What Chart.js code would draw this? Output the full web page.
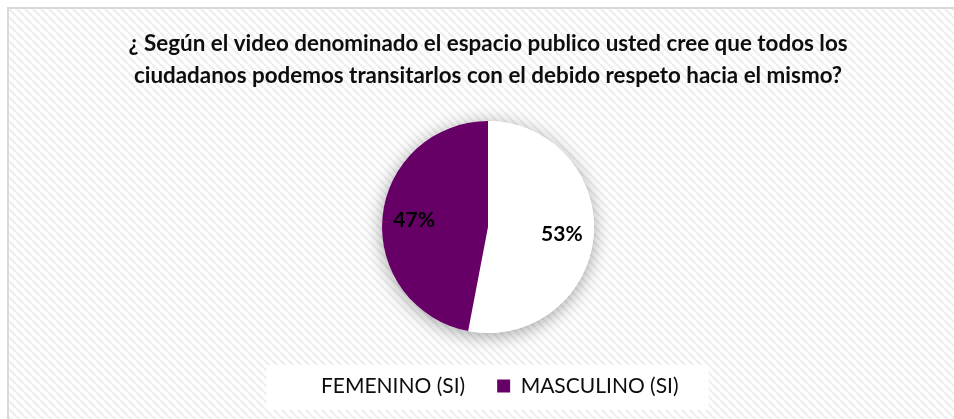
<!DOCTYPE html>
<html lang="es">
<head>
  <meta charset="UTF-8" />
  <title>Espacio publico</title>
  <script src="https://cdn.jsdelivr.net/npm/chart.js"></script>
  <style>
    body { margin: 0; background: #fff; }
    #wrap { width: 954px; height: 419px; }
  </style>
</head>
<body>
<div id="wrap"><canvas id="pieChart" width="954" height="419"></canvas></div>
<script>
  // data
  const categories = ['FEMENINO (SI)', 'MASCULINO (SI)'];
  const percents = [53, 47];
  const sliceColors = ['#ffffff', '#660066'];
  const titleLines = [
    '¿ Según el video denominado el espacio publico usted cree que todos los',
    'ciudadanos podemos transitarlos con el debido respeto hacia el mismo?'
  ];

  const FONT = 'Lato, "Liberation Sans", sans-serif';

  // striped fill for the plot background
  function makeStripes() {
    const c = document.createElement('canvas');
    c.width = 8; c.height = 8;
    const g = c.getContext('2d');
    g.fillStyle = '#ffffff';
    g.fillRect(0, 0, 8, 8);
    g.strokeStyle = '#efefef';
    g.lineWidth = 2.5;
    g.beginPath();
    for (let k = -8; k <= 16; k += 8) {
      g.moveTo(k, 0);
      g.lineTo(k + 8, 8);
    }
    g.stroke();
    return c;
  }
  const stripeTile = makeStripes();

  const backdrop = {
    id: 'backdrop',
    beforeDraw(chart) {
      const ctx = chart.ctx;
      ctx.save();
      ctx.fillStyle = '#ffffff';
      ctx.fillRect(0, 0, chart.width, chart.height);
      ctx.fillStyle = ctx.createPattern(stripeTile, 'repeat');
      ctx.fillRect(8, 8, chart.width, chart.height);
      ctx.strokeStyle = '#d9d9d9';
      ctx.lineWidth = 2;
      ctx.strokeRect(8, 8, chart.width + 10, chart.height + 10);

      // white panel behind legend
      const boxes = chart.legend && chart.legend.legendHitBoxes;
      if (boxes && boxes.length) {
        const first = boxes[0], last = boxes[boxes.length - 1];
        const cy = first.top + first.height / 2;
        ctx.fillStyle = '#ffffff';
        ctx.fillRect(first.left - 31, cy - 21, last.left + last.width - first.left + 61, 45);
      }
      ctx.restore();
    },
    beforeDatasetsDraw(chart) {
      const arc = chart.getDatasetMeta(0).data[0];
      if (!arc) return;
      const ctx = chart.ctx;
      ctx.save();
      ctx.shadowColor = 'rgba(0,0,0,0.35)';
      ctx.shadowBlur = 18;
      ctx.shadowOffsetY = 3;
      ctx.fillStyle = '#ffffff';
      ctx.beginPath();
      ctx.arc(arc.x, arc.y, arc.outerRadius, 0, Math.PI * 2);
      ctx.fill();
      ctx.restore();
    },
    afterDatasetsDraw(chart) {
      const ctx = chart.ctx;
      ctx.save();
      ctx.font = 'bold 21px ' + FONT;
      ctx.fillStyle = '#000000';
      ctx.textAlign = 'center';
      ctx.textBaseline = 'middle';
      chart.getDatasetMeta(0).data.forEach((arc, i) => {
        const mid = (arc.startAngle + arc.endAngle) / 2;
        const r = arc.outerRadius * 0.7;
        ctx.fillText(percents[i] + '%', arc.x + Math.cos(mid) * r, arc.y + Math.sin(mid) * r);
      });
      ctx.restore();
    }
  };

  new Chart(document.getElementById('pieChart'), {
    type: 'pie',
    data: {
      labels: categories,
      datasets: [{
        data: percents,
        backgroundColor: sliceColors,
        borderWidth: 0,
        radius: 106
      }]
    },
    options: {
      responsive: false,
      animation: false,
      layout: { padding: { top: 0, left: 22, right: 0, bottom: 12.5 } },
      plugins: {
        title: {
          display: true,
          text: titleLines,
          color: '#0d0d0d',
          font: { family: FONT, size: 22.4, weight: 'bold', lineHeight: 32 / 22.4 },
          padding: { top: 28, bottom: 18.5 }
        },
        legend: {
          position: 'bottom',
          labels: {
            color: '#0d0d0d',
            font: { family: FONT, size: 21 },
            boxWidth: 13,
            boxHeight: 13,
            padding: 32
          }
        },
        tooltip: { enabled: false }
      }
    },
    plugins: [backdrop]
  });
</script>
</body>
</html>
